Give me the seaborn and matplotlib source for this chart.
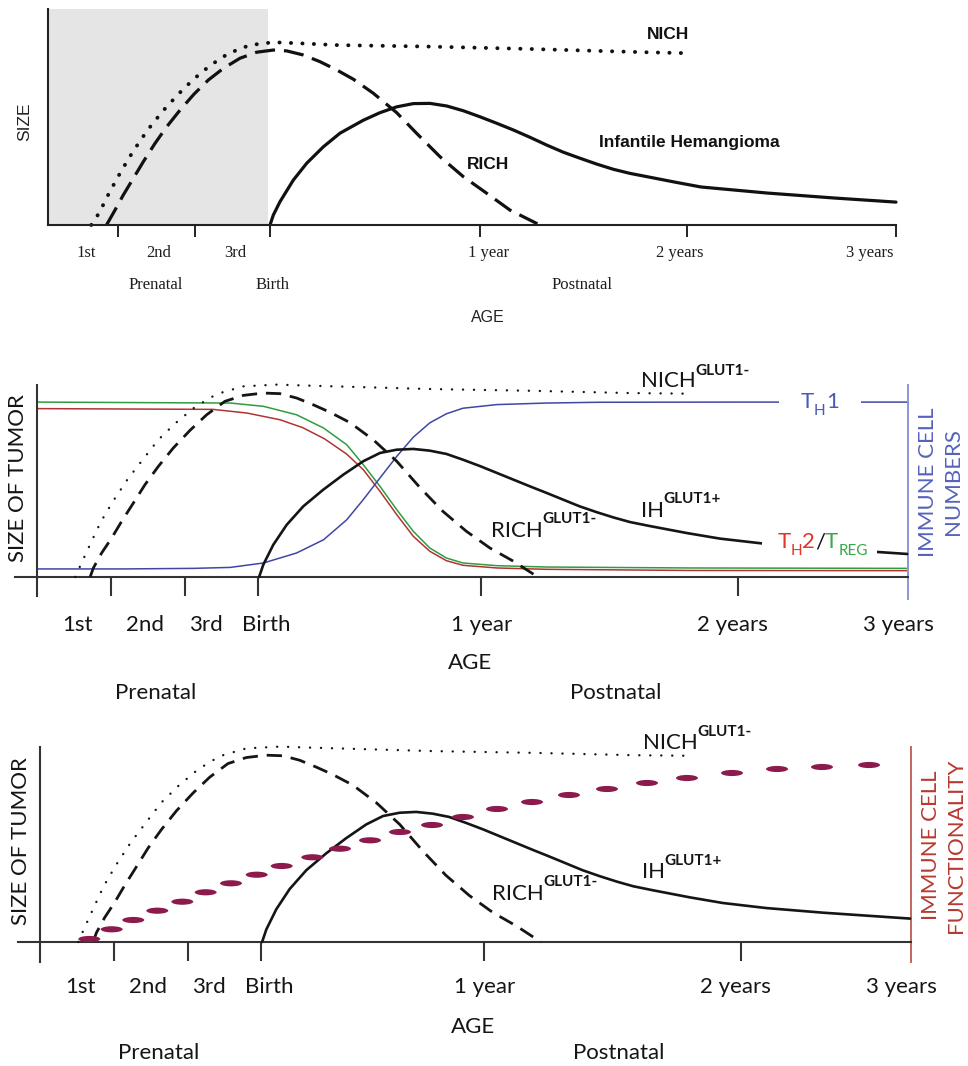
"""
Schematic growth curves of infantile hemangioma, RICH and NICH,
with immune cell numbers / functionality (three stacked panels).
Saves out.png (968 x 1066 px).
"""

import matplotlib
matplotlib.use("Agg")
import matplotlib.pyplot as plt
from matplotlib.patches import Rectangle
from matplotlib.path import Path
import seaborn as sns

W, H = 968, 1066

# ---------- top panel (x: 0 = origin, 100 = 3 years; y: 0 = baseline) ----------
top_ticks = [8.25, 17.3, 26.2, 50.9, 75.4, 100]
top_tick_labels = ["1st", "2nd", "3rd", "1 year", "2 years", "3 years"]
top_tick_label_x = [4.5, 13.0, 22.1, 51.9, 74.5, 96.9]
top_birth = 25.9

top_nich_x = [5.1, 6.05, 7.19, 8.37, 9.59, 10.93, 12.26, 13.76, 15.37, 17.14, 19.10,
              21.31, 23.82, 26.57, 29.72, 34.0, 45.0, 56.8, 70.2, 74.8]
top_nich_y = [0, 5.7, 14.7, 23.1, 31.3, 39.4, 46.6, 53.7, 60.6, 67.4, 73.8,
              79.5, 83.3, 84.6, 84.1, 83.3, 82.6, 81.5, 80.0, 79.6]
top_rich_x = [6.9, 7.9, 8.88, 10.06, 11.24, 12.62, 14.0, 15.57, 17.22, 18.9, 20.67,
              22.64, 24.61, 26.57, 28.15, 30.11, 32.08, 34.04, 36.0, 38.36, 41.12,
              43.48, 46.23, 48.97, 51.73, 54.48, 58.0]
top_rich_y = [0, 6.9, 13.9, 21.6, 29.3, 37.8, 45.5, 53.2, 60.6, 67.1, 72.5,
              77.2, 80.0, 81.0, 80.6, 78.7, 75.6, 71.8, 67.5, 61.0, 52.0,
              42.4, 31.6, 22.4, 14.7, 6.9, 0]
top_ih_x = [26.18, 26.57, 27.36, 28.93, 30.51, 32.47, 34.43, 37.18, 39.15, 41.12,
            43.08, 45.05, 47.02, 48.97, 50.94, 52.91, 54.87, 56.84, 58.81, 60.77,
            62.74, 64.71, 66.66, 68.63, 70.6, 74.0, 77.0, 84.8, 92.7, 100]
top_ih_y = [0, 4.6, 10.8, 20.8, 28.6, 36.2, 42.5, 48.5, 52.0, 54.7,
            56.2, 56.3, 55.1, 52.9, 50.1, 47.1, 44.0, 40.6, 37.0, 33.7,
            30.9, 28.2, 25.8, 23.9, 22.4, 19.8, 17.6, 14.8, 12.5, 10.6]

# ---------- lower panels (x: 0 = origin, 100 = 3 years; y: 100 = top of axis) ----------
ticks = [0, 8.5, 17.0, 25.4, 51.0, 80.5, 100]
tick_labels = ["1st", "2nd", "3rd", "Birth", "1 year", "2 years", "3 years"]
tick_label_x = [4.7, 12.4, 19.4, 26.3, 51.1, 79.9, 98.9]

nich_x = [4.4, 4.94, 6.08, 7.31, 8.76, 10.37, 12.14, 13.93, 15.92, 18.14, 20.63,
          23.69, 27.52, 31.72, 45.1, 56.6, 68.1, 74.6]
nich_y = [0, 5.6, 16.8, 28.6, 39.7, 50.7, 61.1, 71.5, 80.2, 88.5, 95.3,
          99.3, 100.2, 99.6, 97.9, 97.0, 95.8, 95.5]
rich_x = [6.1, 6.47, 7.42, 8.57, 9.72, 11.06, 12.40, 13.93, 15.65, 17.57, 19.48,
          21.58, 23.69, 25.98, 27.9, 29.82, 31.72, 33.64, 35.9, 38.6, 41.3, 44.0,
          46.6, 49.3, 52.0, 54.7, 57.5]
rich_y = [0, 4.7, 12.5, 20.3, 29.0, 38.5, 48.1, 57.6, 67.2, 76.4, 84.5,
          91.5, 94.6, 95.8, 95.5, 93.2, 89.7, 85.8, 80.5, 71.5, 60.3, 46.4,
          34.2, 23.8, 15.1, 8.2, 0]
ih_x = [25.5, 25.98, 27.13, 28.67, 30.57, 32.87, 35.17, 37.46, 39.38, 41.3, 43.2,
        45.1, 47.0, 48.9, 50.9, 52.8, 54.7, 56.6, 58.5, 60.4, 62.3, 64.3, 66.2,
        68.1, 70.4, 74.6, 78.4, 83.4, 90.0, 96.6, 99.9]
ih_y = [0, 6.4, 16.8, 27.2, 36.8, 45.5, 53.3, 60.3, 64.6, 66.3, 66.7,
        65.8, 64.1, 61.1, 57.7, 54.2, 50.7, 47.2, 43.8, 40.3, 36.8, 33.7, 31.0,
        28.6, 26.5, 22.9, 20.0, 17.4, 15.0, 13.0, 12.0]

th1_x = [0, 10, 18, 22.2, 26.0, 29.8, 32.9, 35.56, 37.46, 39.38, 41.3, 43.2, 45.1,
         47.0, 48.9, 52.8, 58.5, 64.3, 80, 100]
th1_y = [4.2, 4.2, 4.5, 5.0, 7.3, 12.5, 19.4, 29.8, 40.3, 51.6, 62.8, 72.8, 80.3,
         85.0, 87.9, 89.8, 90.6, 91.0, 91.1, 91.1]
th2_x = [0, 20.2, 24.1, 27.9, 30.5, 33.0, 35.56, 37.46, 39.38, 41.3, 43.2, 45.1,
         47.0, 48.9, 52.8, 58.5, 75, 100]
th2_y = [87.7, 87.3, 85.4, 81.9, 77.8, 72.0, 64.0, 55.9, 44.6, 32.5, 21.2, 13.4,
         8.5, 6.1, 4.7, 4.0, 3.4, 3.3]
treg_x = [0, 22.2, 26.0, 29.8, 32.9, 35.56, 37.46, 39.38, 41.3, 43.2, 45.1, 47.0,
          48.9, 52.8, 58.5, 75, 100]
treg_y = [91.1, 90.6, 88.9, 84.5, 77.6, 68.9, 58.5, 47.2, 35.1, 23.8, 15.1, 9.9,
          7.3, 5.9, 5.2, 4.7, 4.5]

# immune cell functionality: centres of the dashes
func_x = [5.66, 8.23, 10.71, 13.47, 16.34, 19.02, 21.93, 24.88, 27.75, 31.26, 34.44,
          37.89, 41.33, 45.01, 48.56, 52.47, 56.49, 60.73, 65.10, 69.69, 74.28, 79.45,
          84.62, 89.78, 95.18]
func_y = [1.54, 6.51, 11.28, 16.05, 20.67, 25.49, 30.10, 34.51, 38.97, 43.44, 47.85,
          52.15, 56.41, 60.0, 64.10, 68.21, 71.79, 75.38, 78.46, 81.54, 84.10, 86.67,
          88.72, 89.74, 90.77]

sns.set_theme(style="white")
plt.rcParams["font.family"] = ["Lato", "DejaVu Sans"]

INK = "#151515"
AXIS = "#333333"
BLUE_LINE, BLUE_TXT, BLUE_AX = "#3e47a6", "#4d59b6", "#8c96d4"
RED_LINE, RED_TXT = "#b13434", "#e3352b"
GREEN_LINE, GREEN_TXT = "#2f9c3e", "#3aa84a"
MAROON, BRICK = "#8c1a4c", "#b83a30"

# flat ellipse used for the functionality dashes
_circle = Path.unit_circle()
ELLIPSE = Path(_circle.vertices * [1.0, 0.28], _circle.codes)


def panel(fig, ox, oy, sx, sy, xlim, ylim):
    """Axes placed so that data (0, 0) sits at pixel (ox, oy), sx/sy px per unit."""
    left = ox + xlim[0] * sx
    bottom = oy - ylim[0] * sy
    ax = fig.add_axes([left / W, 1 - bottom / H,
                       (xlim[1] - xlim[0]) * sx / W, (ylim[1] - ylim[0]) * sy / H])
    ax.set_xlim(xlim)
    ax.set_ylim(ylim)
    ax.patch.set_alpha(0)
    for s in ax.spines.values():
        s.set_visible(False)
    ax.set_yticks([])
    return ax


def curve(ax, x, y, **kw):
    sns.lineplot(x=x, y=y, ax=ax, estimator=None, sort=False, legend=False, **kw)


def sup_text(ax, x, y, main, sup, dy):
    t = ax.text(x, y, main, fontsize=16, color=INK, ha="left", va="baseline", zorder=6)
    ax.annotate(sup, xy=(1, y + dy), xycoords=(t, "data"), fontsize=11,
                fontweight="bold", color=INK, ha="left", va="baseline",
                annotation_clip=False, zorder=6)


def chain_text(ax, x, y, parts):
    prev = None
    for s, c, fs, dy in parts:
        if prev is None:
            prev = ax.text(x, y + dy, s, color=c, fontsize=fs, ha="left",
                           va="baseline", zorder=6)
        else:
            prev = ax.annotate(s, xy=(1, y + dy), xycoords=(prev, "data"), color=c,
                               fontsize=fs, ha="left", va="baseline",
                               annotation_clip=False, zorder=6)


fig = plt.figure(figsize=(W / 100, H / 100), dpi=100)

# ================= top panel =================
ax1 = panel(fig, 48, 225, 8.48, 2.16, (-0.3, 100.4), (-5.6, 102))
ax1.fill_between([0, top_birth], 0, 100, color="#e5e5e5", lw=0, zorder=0)
for s in ("left", "bottom"):
    ax1.spines[s].set_visible(True)
    ax1.spines[s].set_position(("data", 0))
    ax1.spines[s].set_bounds(0, 100)
    ax1.spines[s].set_color("#222222")
    ax1.spines[s].set_linewidth(1.5)
ax1.set_xticks(top_ticks)
ax1.set_xticklabels([])
ax1.tick_params(axis="x", bottom=True, direction="out", length=8.6, width=1.4,
                color="#222222")

curve(ax1, top_nich_x, top_nich_y, color="#111111", lw=2.8,
      linestyle=(0, (0.05, 2.9)), dash_capstyle="round")
curve(ax1, top_rich_x, top_rich_y, color="#111111", lw=2.3, linestyle=(0, (6.3, 2.8)))
curve(ax1, top_ih_x, top_ih_y, color="#111111", lw=2.3)

serif = dict(family=["Liberation Serif", "DejaVu Serif"], fontsize=12, color="#1e1e1e",
             ha="center", va="center")
for lx, lab in zip(top_tick_label_x, top_tick_labels):
    ax1.text(lx, -13, lab, **serif)
ax1.text(12.7, -27.8, "Prenatal", **serif)
ax1.text(26.5, -27.8, "Birth", **serif)
ax1.text(63.0, -27.8, "Postnatal", **serif)
ax1.text(51.9, -43, "AGE", family=["Liberation Sans", "DejaVu Sans"], fontsize=11.5,
         color="#222222", ha="center", va="center")
ax1.text(-2.7, 48, "SIZE", family=["Liberation Sans Narrow", "Liberation Sans"],
         fontsize=12.5, color="#222222", rotation=90, ha="center", va="center")
bold = dict(family=["Liberation Sans", "DejaVu Sans"], fontweight="bold", fontsize=12.5,
            color="#111111", ha="center", va="center")
ax1.text(73.1, 88, "NICH", **bold)
ax1.text(51.9, 27.8, "RICH", **bold)
ax1.text(75.6, 38, "Infantile Hemangioma", **bold)


def lower_axes(ax, right_color):
    for s in ("left", "bottom"):
        ax.spines[s].set_visible(True)
        ax.spines[s].set_position(("data", 0))
        ax.spines[s].set_color(AXIS)
        ax.spines[s].set_linewidth(1.5)
    ax.spines["left"].set_bounds(-10, 100)
    ax.spines["bottom"].set_bounds(ax.get_xlim()[0], 100)
    ax.spines["right"].set_visible(True)
    ax.spines["right"].set_position(("data", 100))
    ax.spines["right"].set_bounds(ax.get_ylim()[0], 100)
    ax.spines["right"].set_color(right_color)
    ax.spines["right"].set_linewidth(1.4)
    ax.set_xticks(ticks[1:-1])
    ax.set_xticklabels([])
    ax.tick_params(axis="x", bottom=True, direction="out", length=13.7, width=1.5,
                   color=AXIS)


def tumors(ax):
    curve(ax, nich_x, nich_y, color=INK, lw=1.7, linestyle=(0, (0.05, 4.6)),
          dash_capstyle="round", zorder=4)
    curve(ax, rich_x, rich_y, color=INK, lw=2.0, linestyle=(0, (5.5, 3.2)), zorder=4)
    curve(ax, ih_x, ih_y, color=INK, lw=1.9, zorder=4)


def lower_labels(ax, row_y, age_y, stage_y, right_text, right_color):
    for lx, lab in zip(tick_label_x, tick_labels):
        ax.text(lx, row_y, lab, fontsize=16, color=INK, ha="center", va="center")
    ax.text(49.7, age_y, "AGE", fontsize=16, color=INK, ha="center", va="center")
    ax.text(13.6, stage_y, "Prenatal", fontsize=16, color=INK, ha="center", va="center")
    ax.text(66.4, stage_y, "Postnatal", fontsize=16, color=INK, ha="center", va="center")
    ax.text(-2.2, 51.7, "SIZE OF TUMOR", fontsize=16, color=INK, rotation=90,
            ha="center", va="center")
    ax.text(103.7, 49.5, right_text, fontsize=16, color=right_color, rotation=90,
            ha="center", va="center", multialignment="center", linespacing=1.3)


# ================= middle panel: immune cell numbers =================
ax2 = panel(fig, 37, 577, 8.71, 1.92, (-2.5, 101.5), (-11.5, 103))
lower_axes(ax2, BLUE_AX)
curve(ax2, th2_x, th2_y, color=RED_LINE, lw=1.1, zorder=2)
curve(ax2, treg_x, treg_y, color=GREEN_LINE, lw=1.1, zorder=2)
curve(ax2, th1_x, th1_y, color=BLUE_LINE, lw=1.1, zorder=2)
tumors(ax2)
# white gaps behind the in-line labels
ax2.add_patch(Rectangle((85.2, 86), 9.4, 10, color="white", lw=0, zorder=5))
ax2.add_patch(Rectangle((83.2, 8), 13.2, 14, color="white", lw=0, zorder=5))

sup_text(ax2, 69.3, 98.8, "NICH", "GLUT1-", 6.5)
sup_text(ax2, 69.3, 31.3, "IH", "GLUT1+", 7.3)
sup_text(ax2, 52.1, 20.8, "RICH", "GLUT1-", 7.3)
chain_text(ax2, 87.7, 88, [("T", BLUE_TXT, 16, 0), ("H", BLUE_TXT, 11, -3.6),
                           ("1", BLUE_TXT, 16, 0)])
chain_text(ax2, 85.0, 15.1, [("T", RED_TXT, 16, 0), ("H", RED_TXT, 11, -3.6),
                             ("2", RED_TXT, 16, 0), ("/", INK, 16, 0),
                             ("T", GREEN_TXT, 16, 0), ("REG", GREEN_TXT, 11, -3.6)])
lower_labels(ax2, -25, -44.8, -60.4, "IMMUNE CELL\nNUMBERS", "#5563bd")

# ================= bottom panel: immune cell functionality =================
ax3 = panel(fig, 40, 942, 8.71, 1.95, (-2.5, 101.5), (-10.5, 103))
lower_axes(ax3, "#c2675c")
tumors(ax3)
sns.scatterplot(x=func_x, y=func_y, ax=ax3, marker=ELLIPSE, s=250, color=MAROON,
                linewidth=0, edgecolor="none", legend=False, zorder=5)
sup_text(ax3, 69.2, 99.0, "NICH", "GLUT1-", 6.5)
sup_text(ax3, 69.1, 32.8, "IH", "GLUT1+", 6.8)
sup_text(ax3, 51.9, 21.5, "RICH", "GLUT1-", 7.0)
lower_labels(ax3, -23.1, -43.6, -56.9, "IMMUNE CELL\nFUNCTIONALITY", BRICK)

fig.savefig("out.png", dpi=100, facecolor="white")
